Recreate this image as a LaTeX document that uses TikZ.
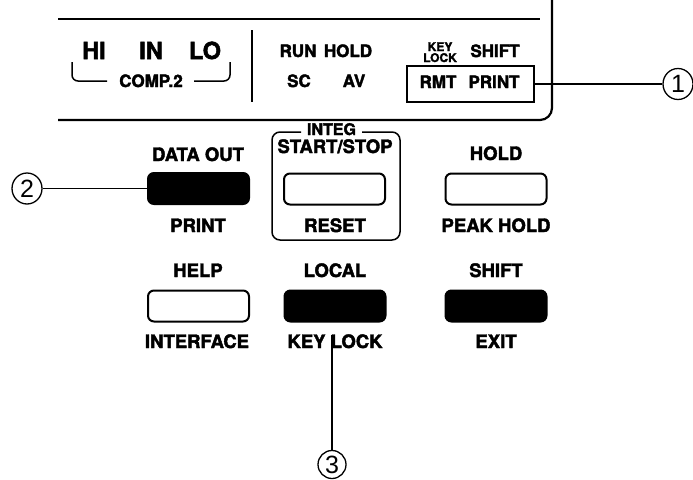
\documentclass[tikz,border=0pt]{standalone}
\usepackage{fontspec}
\setmainfont{TeX Gyre Heros}[BoldFeatures={FakeBold=2.2}]
\newfontfamily\digitfont{Liberation Sans}
\usetikzlibrary{shapes.geometric}
\begin{document}
\begin{tikzpicture}[x=1pt,y=-1pt,
 lbl/.style={font=\bfseries\fontsize{18.5}{18.5}\selectfont, inner sep=0pt, anchor=base},
 plbl/.style={font=\bfseries\fontsize{17}{17}\selectfont, inner sep=0pt, anchor=base},
 big/.style={font=\bfseries\fontsize{23.5}{23.5}\selectfont, inner sep=0pt, anchor=base},
 small/.style={font=\bfseries\fontsize{12}{12}\selectfont, inner sep=0pt, anchor=base},
 keyw/.style={draw=black, line width=2pt, rounded corners=6pt, fill=white, inner sep=0pt, minimum width=101pt, minimum height=31pt},
 keyb/.style={keyw, fill=black},
 panel/.style={line width=2.2pt},
 leader/.style={line width=1.5pt},
 num/.style={draw, ellipse, line width=1.3pt, minimum width=30pt, minimum height=31pt, inner sep=0pt, font=\digitfont\fontsize{25}{25}\selectfont}
]
\useasboundingbox (0,0) rectangle (693,479);
% display panel
\draw[panel] (58,19) -- (540,19);
\draw[panel, rounded corners=12pt] (552,-5) -- (552,120) -- (58,120);
\draw[line width=1.8pt] (252,30) -- (252,102);
\node[big] (hi) at (94,59) {HI};
\node[big] (in) at (151,59) {IN};
\node[big] (lo) at (205,59) {LO};
\node[plbl] (comp) at (151,87) {COMP.2};
\draw[line width=1.5pt, rounded corners=6pt] (72,62) -- (72,81) -- (107,81);
\draw[line width=1.5pt, rounded corners=6pt] (194,81) -- (230,81) -- (230,62);
\node[plbl] (run) at (298,57) {RUN};
\node[plbl] (hold1) at (348,57) {HOLD};
\node[plbl] (sc) at (299,87) {SC};
\node[plbl] (av) at (354,87) {AV};
\node[small] (key) at (440,51) {KEY};
\node[small] (lock) at (440,62) {LOCK};
\node[plbl] (shift1) at (495,57) {SHIFT};
\node[draw, line width=2pt, minimum width=127pt, minimum height=36pt, inner sep=0pt] (rmtbox) at (470.5,84) {};
\node[plbl] (rmt) at (438,88) {RMT};
\node[plbl] (print1) at (494,88) {PRINT};
% keys row 1
\node[lbl] (ldata) at (198,161) {DATA OUT};
\node[keyb] (bdata) at (198.5,188.5) {};
\node[lbl] (lprint) at (198,232) {PRINT};
\draw[line width=1.5pt, rounded corners=8pt] (301,132) -- (272,132) -- (272,240) -- (400,240) -- (400,132) -- (362,132);
\node[plbl, font=\bfseries\fontsize{16}{16}\selectfont] (linteg) at (331.5,135) {INTEG};
\node[lbl] (lstart) at (335,153) {START/STOP};
\node[keyw] (bstart) at (334.5,189) {};
\node[lbl] (lreset) at (335,232) {RESET};
\node[lbl] (lhold) at (496,160) {HOLD};
\node[keyw] (bhold) at (496,189) {};
\node[lbl] (lpeak) at (496,232) {PEAK HOLD};
% keys row 2
\node[lbl] (lhelp) at (198,277) {HELP};
\node[keyw] (bhelp) at (198.5,306) {};
\node[lbl] (linter) at (197,348) {INTERFACE};
\node[lbl] (llocal) at (335,277) {LOCAL};
\node[keyb] (blocal) at (335,306) {};
\node[lbl] (lkey) at (335,348) {KEY LOCK};
\node[lbl] (lshift) at (496,277) {SHIFT};
\node[keyb] (bshift) at (496,306) {};
\node[lbl] (lexit) at (496,348) {EXIT};
% callouts
\node[num] (c1) at (678,84) {1};
\node[num] (c2) at (27,188.5) {2};
\node[num, minimum width=28pt, minimum height=28pt] (c3) at (332,464.5) {3};
\coordinate (k3) at (332,335);
\draw[leader] (rmtbox.east) -- (c1.west);
\draw[leader] (c2.east) -- (bdata.west);
\draw[leader] (k3) -- (c3.north);
\end{tikzpicture}
\end{document}
